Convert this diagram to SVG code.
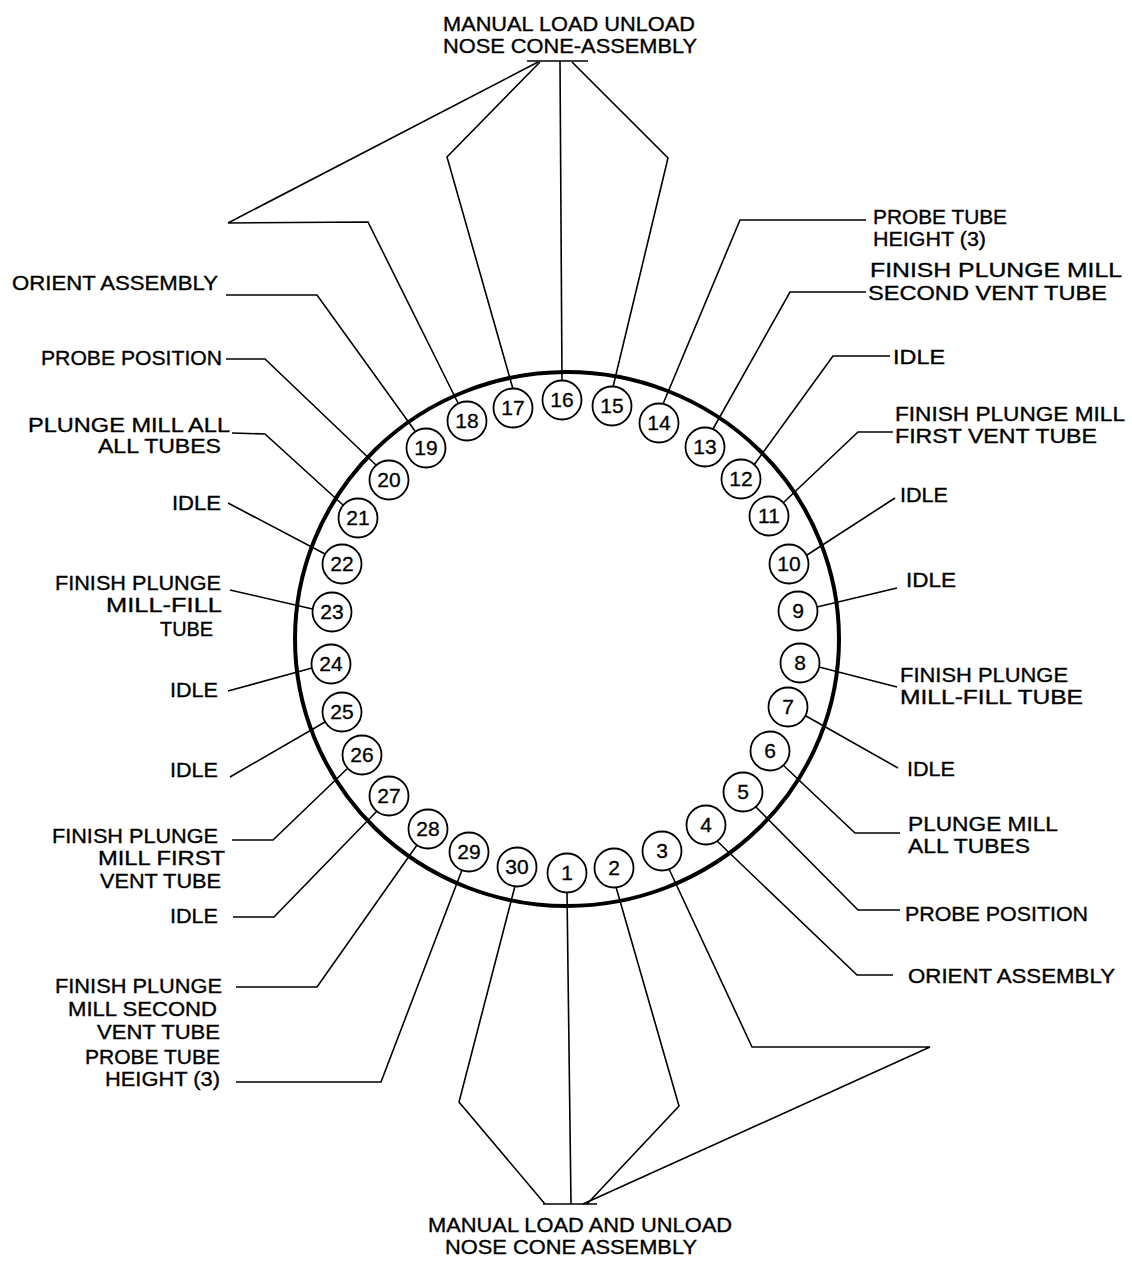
<svg xmlns="http://www.w3.org/2000/svg" width="1132" height="1261" viewBox="0 0 1132 1261">
<style>
.bg{fill:#fff}
.ring{fill:none;stroke:#000;stroke-width:4}
.st circle{fill:#fff;stroke:#000;stroke-width:1.8}
.st text{font-family:"Liberation Sans",Arial,sans-serif;font-size:21px;text-anchor:middle;fill:#000;stroke:#000;stroke-width:0.3}
.lbl text{font-family:"Liberation Sans",Arial,sans-serif;font-size:21px;fill:#000;stroke:#000;stroke-width:0.35}
.r text{text-anchor:start}
.l text{text-anchor:end}
.c text{text-anchor:middle}
#connectors polyline,#connectors line{fill:none;stroke:#000;stroke-width:1.6;stroke-linejoin:miter}
</style>
<rect class="bg" x="0" y="0" width="1132" height="1261"/>
<ellipse class="ring" cx="567" cy="639" rx="272" ry="267"/>
<g id="connectors">
<line x1="527" y1="61" x2="588" y2="61"/>
<line x1="543" y1="1204" x2="597" y2="1204"/>
<polyline points="562,381 560,61"/>
<polyline points="513,389 447,157 540,62"/>
<polyline points="458,403 368,222 228,223 538,62"/>
<polyline points="415,431 317,295 226,295"/>
<polyline points="376,465 265,359 226,359"/>
<polyline points="343,505 265,434 232,433"/>
<polyline points="325,554 228,503"/>
<polyline points="312.5,609 230,590"/>
<polyline points="312,668 228,691"/>
<polyline points="325,722 230,777"/>
<polyline points="348,768 273,840 232,840"/>
<polyline points="377,811 274,917 233,917"/>
<polyline points="417,845 317,987 236,987"/>
<polyline points="462,870 381,1082 236,1082"/>
<polyline points="515,886 459,1102 545,1204"/>
<polyline points="567,892 571,1204"/>
<polyline points="616,887 679,1106 587,1204"/>
<polyline points="669,869 752,1047 930,1047 583,1204"/>
<polyline points="717,841 857,975 893,975"/>
<polyline points="756,807 858,910 900,910"/>
<polyline points="783,765 855,833 900,833"/>
<polyline points="806,716 898,768"/>
<polyline points="819,667 897,687"/>
<polyline points="817,607 897,588"/>
<polyline points="807,555 895,498"/>
<polyline points="783,503 858,432 893,432"/>
<polyline points="754,465 833,356 890,356"/>
<polyline points="713,429 790,292 866,292"/>
<polyline points="663,404 740,220 866,220"/>
<polyline points="613,387 668,158 572,62"/>
</g>
<g id="n1" class="st"><circle cx="567" cy="873" r="19.5"/><text x="567" y="880">1</text></g>
<g id="n2" class="st"><circle cx="614" cy="868" r="19.5"/><text x="614" y="875">2</text></g>
<g id="n3" class="st"><circle cx="662" cy="851" r="19.5"/><text x="662" y="858">3</text></g>
<g id="n4" class="st"><circle cx="706" cy="825" r="19.5"/><text x="706" y="832">4</text></g>
<g id="n5" class="st"><circle cx="743" cy="792" r="19.5"/><text x="743" y="799">5</text></g>
<g id="n6" class="st"><circle cx="770" cy="751" r="19.5"/><text x="770" y="758">6</text></g>
<g id="n7" class="st"><circle cx="788" cy="707" r="19.5"/><text x="788" y="714">7</text></g>
<g id="n8" class="st"><circle cx="800" cy="663" r="19.5"/><text x="800" y="670">8</text></g>
<g id="n9" class="st"><circle cx="798" cy="611" r="19.5"/><text x="798" y="618">9</text></g>
<g id="n10" class="st"><circle cx="789" cy="564" r="19.5"/><text x="789" y="571">10</text></g>
<g id="n11" class="st"><circle cx="769" cy="516" r="19.5"/><text x="769" y="523">11</text></g>
<g id="n12" class="st"><circle cx="741" cy="479" r="19.5"/><text x="741" y="486">12</text></g>
<g id="n13" class="st"><circle cx="705" cy="447" r="19.5"/><text x="705" y="454">13</text></g>
<g id="n14" class="st"><circle cx="659" cy="423" r="19.5"/><text x="659" y="430">14</text></g>
<g id="n15" class="st"><circle cx="612" cy="406" r="19.5"/><text x="612" y="413">15</text></g>
<g id="n16" class="st"><circle cx="562" cy="400" r="19.5"/><text x="562" y="407">16</text></g>
<g id="n17" class="st"><circle cx="513" cy="408" r="19.5"/><text x="513" y="415">17</text></g>
<g id="n18" class="st"><circle cx="467" cy="421" r="19.5"/><text x="467" y="428">18</text></g>
<g id="n19" class="st"><circle cx="426" cy="448" r="19.5"/><text x="426" y="455">19</text></g>
<g id="n20" class="st"><circle cx="389" cy="480" r="19.5"/><text x="389" y="487">20</text></g>
<g id="n21" class="st"><circle cx="358" cy="518" r="19.5"/><text x="358" y="525">21</text></g>
<g id="n22" class="st"><circle cx="342" cy="564" r="19.5"/><text x="342" y="571">22</text></g>
<g id="n23" class="st"><circle cx="332" cy="612" r="19.5"/><text x="332" y="619">23</text></g>
<g id="n24" class="st"><circle cx="331" cy="664" r="19.5"/><text x="331" y="671">24</text></g>
<g id="n25" class="st"><circle cx="342" cy="712" r="19.5"/><text x="342" y="719">25</text></g>
<g id="n26" class="st"><circle cx="362" cy="755" r="19.5"/><text x="362" y="762">26</text></g>
<g id="n27" class="st"><circle cx="389" cy="796" r="19.5"/><text x="389" y="803">27</text></g>
<g id="n28" class="st"><circle cx="428" cy="829" r="19.5"/><text x="428" y="836">28</text></g>
<g id="n29" class="st"><circle cx="469" cy="852" r="19.5"/><text x="469" y="859">29</text></g>
<g id="n30" class="st"><circle cx="517" cy="867" r="19.5"/><text x="517" y="874">30</text></g>
<g id="label-top" class="lbl c"><text><tspan x="569" y="31" textLength="252" lengthAdjust="spacingAndGlyphs">MANUAL LOAD UNLOAD</tspan><tspan x="570" y="53" textLength="254" lengthAdjust="spacingAndGlyphs">NOSE CONE-ASSEMBLY</tspan></text></g>
<g id="label-bottom" class="lbl c"><text><tspan x="580" y="1232" textLength="304" lengthAdjust="spacingAndGlyphs">MANUAL LOAD AND UNLOAD</tspan><tspan x="571" y="1254" textLength="252" lengthAdjust="spacingAndGlyphs">NOSE CONE ASSEMBLY</tspan></text></g>
<g id="label-14" class="lbl r"><text><tspan x="873" y="224" textLength="134" lengthAdjust="spacingAndGlyphs">PROBE TUBE</tspan><tspan x="873" y="246" textLength="113" lengthAdjust="spacingAndGlyphs">HEIGHT (3)</tspan></text></g>
<g id="label-13" class="lbl r"><text><tspan x="870" y="277" textLength="252" lengthAdjust="spacingAndGlyphs">FINISH PLUNGE MILL</tspan><tspan x="868" y="300" textLength="239" lengthAdjust="spacingAndGlyphs">SECOND VENT TUBE</tspan></text></g>
<g id="label-12" class="lbl r"><text x="893" y="364" textLength="52" lengthAdjust="spacingAndGlyphs">IDLE</text></g>
<g id="label-11" class="lbl r"><text><tspan x="895" y="421" textLength="230" lengthAdjust="spacingAndGlyphs">FINISH PLUNGE MILL</tspan><tspan x="895" y="443" textLength="202" lengthAdjust="spacingAndGlyphs">FIRST VENT TUBE</tspan></text></g>
<g id="label-10" class="lbl r"><text x="900" y="502" textLength="48" lengthAdjust="spacingAndGlyphs">IDLE</text></g>
<g id="label-9" class="lbl r"><text x="906" y="587" textLength="50" lengthAdjust="spacingAndGlyphs">IDLE</text></g>
<g id="label-8" class="lbl r"><text><tspan x="900" y="682" textLength="168" lengthAdjust="spacingAndGlyphs">FINISH PLUNGE</tspan><tspan x="900" y="704" textLength="183" lengthAdjust="spacingAndGlyphs">MILL-FILL TUBE</tspan></text></g>
<g id="label-7" class="lbl r"><text x="907" y="776" textLength="48" lengthAdjust="spacingAndGlyphs">IDLE</text></g>
<g id="label-6" class="lbl r"><text><tspan x="908" y="831" textLength="150" lengthAdjust="spacingAndGlyphs">PLUNGE MILL</tspan><tspan x="908" y="853" textLength="122" lengthAdjust="spacingAndGlyphs">ALL TUBES</tspan></text></g>
<g id="label-5" class="lbl r"><text x="905" y="921" textLength="183" lengthAdjust="spacingAndGlyphs">PROBE POSITION</text></g>
<g id="label-4" class="lbl r"><text x="908" y="983" textLength="207" lengthAdjust="spacingAndGlyphs">ORIENT ASSEMBLY</text></g>
<g id="label-19" class="lbl l"><text x="218" y="290" textLength="206" lengthAdjust="spacingAndGlyphs">ORIENT ASSEMBLY</text></g>
<g id="label-20" class="lbl l"><text x="222" y="365" textLength="181" lengthAdjust="spacingAndGlyphs">PROBE POSITION</text></g>
<g id="label-21" class="lbl l"><text><tspan x="230" y="432" textLength="202" lengthAdjust="spacingAndGlyphs">PLUNGE MILL ALL</tspan><tspan x="221" y="453" textLength="123" lengthAdjust="spacingAndGlyphs">ALL TUBES</tspan></text></g>
<g id="label-22" class="lbl l"><text x="221" y="510" textLength="49" lengthAdjust="spacingAndGlyphs">IDLE</text></g>
<g id="label-23" class="lbl l"><text><tspan x="221" y="590" textLength="166" lengthAdjust="spacingAndGlyphs">FINISH PLUNGE</tspan><tspan x="222" y="612" textLength="116" lengthAdjust="spacingAndGlyphs">MILL-FILL</tspan><tspan x="213" y="636" textLength="53" lengthAdjust="spacingAndGlyphs">TUBE</tspan></text></g>
<g id="label-24" class="lbl l"><text x="218" y="697" textLength="48" lengthAdjust="spacingAndGlyphs">IDLE</text></g>
<g id="label-25" class="lbl l"><text x="218" y="777" textLength="48" lengthAdjust="spacingAndGlyphs">IDLE</text></g>
<g id="label-26" class="lbl l"><text><tspan x="218" y="843" textLength="166" lengthAdjust="spacingAndGlyphs">FINISH PLUNGE</tspan><tspan x="225" y="865" textLength="127" lengthAdjust="spacingAndGlyphs">MILL FIRST</tspan><tspan x="221" y="888" textLength="121" lengthAdjust="spacingAndGlyphs">VENT TUBE</tspan></text></g>
<g id="label-27" class="lbl l"><text x="218" y="923" textLength="48" lengthAdjust="spacingAndGlyphs">IDLE</text></g>
<g id="label-28" class="lbl l"><text><tspan x="222" y="993" textLength="167" lengthAdjust="spacingAndGlyphs">FINISH PLUNGE</tspan><tspan x="217" y="1016" textLength="149" lengthAdjust="spacingAndGlyphs">MILL SECOND</tspan><tspan x="220" y="1039" textLength="123" lengthAdjust="spacingAndGlyphs">VENT TUBE</tspan></text></g>
<g id="label-29" class="lbl l"><text><tspan x="220" y="1064" textLength="135" lengthAdjust="spacingAndGlyphs">PROBE TUBE</tspan><tspan x="220" y="1086" textLength="115" lengthAdjust="spacingAndGlyphs">HEIGHT (3)</tspan></text></g>
</svg>
